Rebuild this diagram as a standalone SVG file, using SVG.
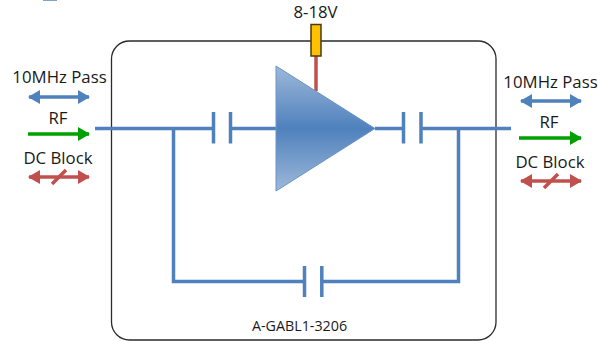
<svg xmlns="http://www.w3.org/2000/svg" width="598" height="341" viewBox="0 0 598 341">
<style>
text{font-family:"Open Sans","Noto Sans","Liberation Sans",sans-serif;fill:#1a1a1a;text-anchor:middle}
.l{font-size:16.800px}
.w{fill:none;stroke:#4f81bd;stroke-width:3.5}
.b{stroke:#4f81bd;stroke-width:3.5;fill:none}
.g{stroke:#00a000;stroke-width:3.5;fill:none}
.r{stroke:#c0504d;stroke-width:3.5;fill:none}
</style>
<defs>
<linearGradient id="tri" x1="0" y1="0" x2="0" y2="1">
<stop offset="0" stop-color="#9db8d9"/><stop offset="0.5" stop-color="#4f81bd"/><stop offset="1" stop-color="#9db8d9"/>
</linearGradient>
<marker id="ab" markerUnits="userSpaceOnUse" markerWidth="12" markerHeight="14" refX="11" refY="7" orient="auto-start-reverse"><path d="M0 0L12 7L0 14Z" fill="#4f81bd"/></marker>
<marker id="ag" markerUnits="userSpaceOnUse" markerWidth="12" markerHeight="14" refX="11" refY="7" orient="auto-start-reverse"><path d="M0 0L12 7L0 14Z" fill="#00a000"/></marker>
<marker id="ar" markerUnits="userSpaceOnUse" markerWidth="12" markerHeight="14" refX="11" refY="7" orient="auto-start-reverse"><path d="M0 0L12 7L0 14Z" fill="#c0504d"/></marker>
</defs>
<rect x="43" y="0" width="14" height="1" fill="#7ea3d0"/>
<g id="module"><rect x="111.500" y="41" width="384.500" height="299" rx="18" fill="#fff" stroke="#2b2b2b" stroke-width="1.300"/><text x="299.500" y="331" font-size="14.300">A-GABL1-3206</text></g>
<g id="connectors">
<path class="w" d="M95 128.500H213M173.500 128.500V281.500H304.500M230.500 128.500H276M375 128.500H403M421 128.500H511M458.500 128.500V281.500H322"/>
<path class="w" d="M213.500 112V143.500M230.500 112V143.500M403.500 112V143.500M421 112V143.500M304.500 266V297M321.800 266V297"/>
<path class="r" d="M316 56V91"/>
</g>
<g id="amplifier"><path d="M276 66V191L375 128.500Z" fill="url(#tri)" stroke="#6a94c6" stroke-width="1"/></g>
<g id="bias"><rect x="311" y="24.500" width="10" height="31.500" fill="#ffc000" stroke="#4a3a10" stroke-width="1.500"/><text class="l" x="315.500" y="18">8-18V</text></g>
<g id="legend-left">
<text class="l" x="59.500" y="82.500">10MHz Pass</text>
<path class="b" d="M29 97H89" marker-start="url(#ab)" marker-end="url(#ab)"/>
<text class="l" x="58" y="124">RF</text>
<path class="g" d="M28 134H89" marker-end="url(#ag)"/>
<text class="l" x="58" y="164">DC Block</text>
<path class="r" d="M29 177H89" marker-start="url(#ar)" marker-end="url(#ar)"/>
<path class="r" d="M52 184L66 170"/>
</g>
<g id="legend-right">
<text class="l" x="550.500" y="87.500">10MHz Pass</text>
<path class="b" d="M521 101H581" marker-start="url(#ab)" marker-end="url(#ab)"/>
<text class="l" x="549" y="127.500">RF</text>
<path class="g" d="M519 138H581" marker-end="url(#ag)"/>
<text class="l" x="550" y="167.500">DC Block</text>
<path class="r" d="M521 181H581" marker-start="url(#ar)" marker-end="url(#ar)"/>
<path class="r" d="M544 188L558 174"/>
</g>
</svg>
